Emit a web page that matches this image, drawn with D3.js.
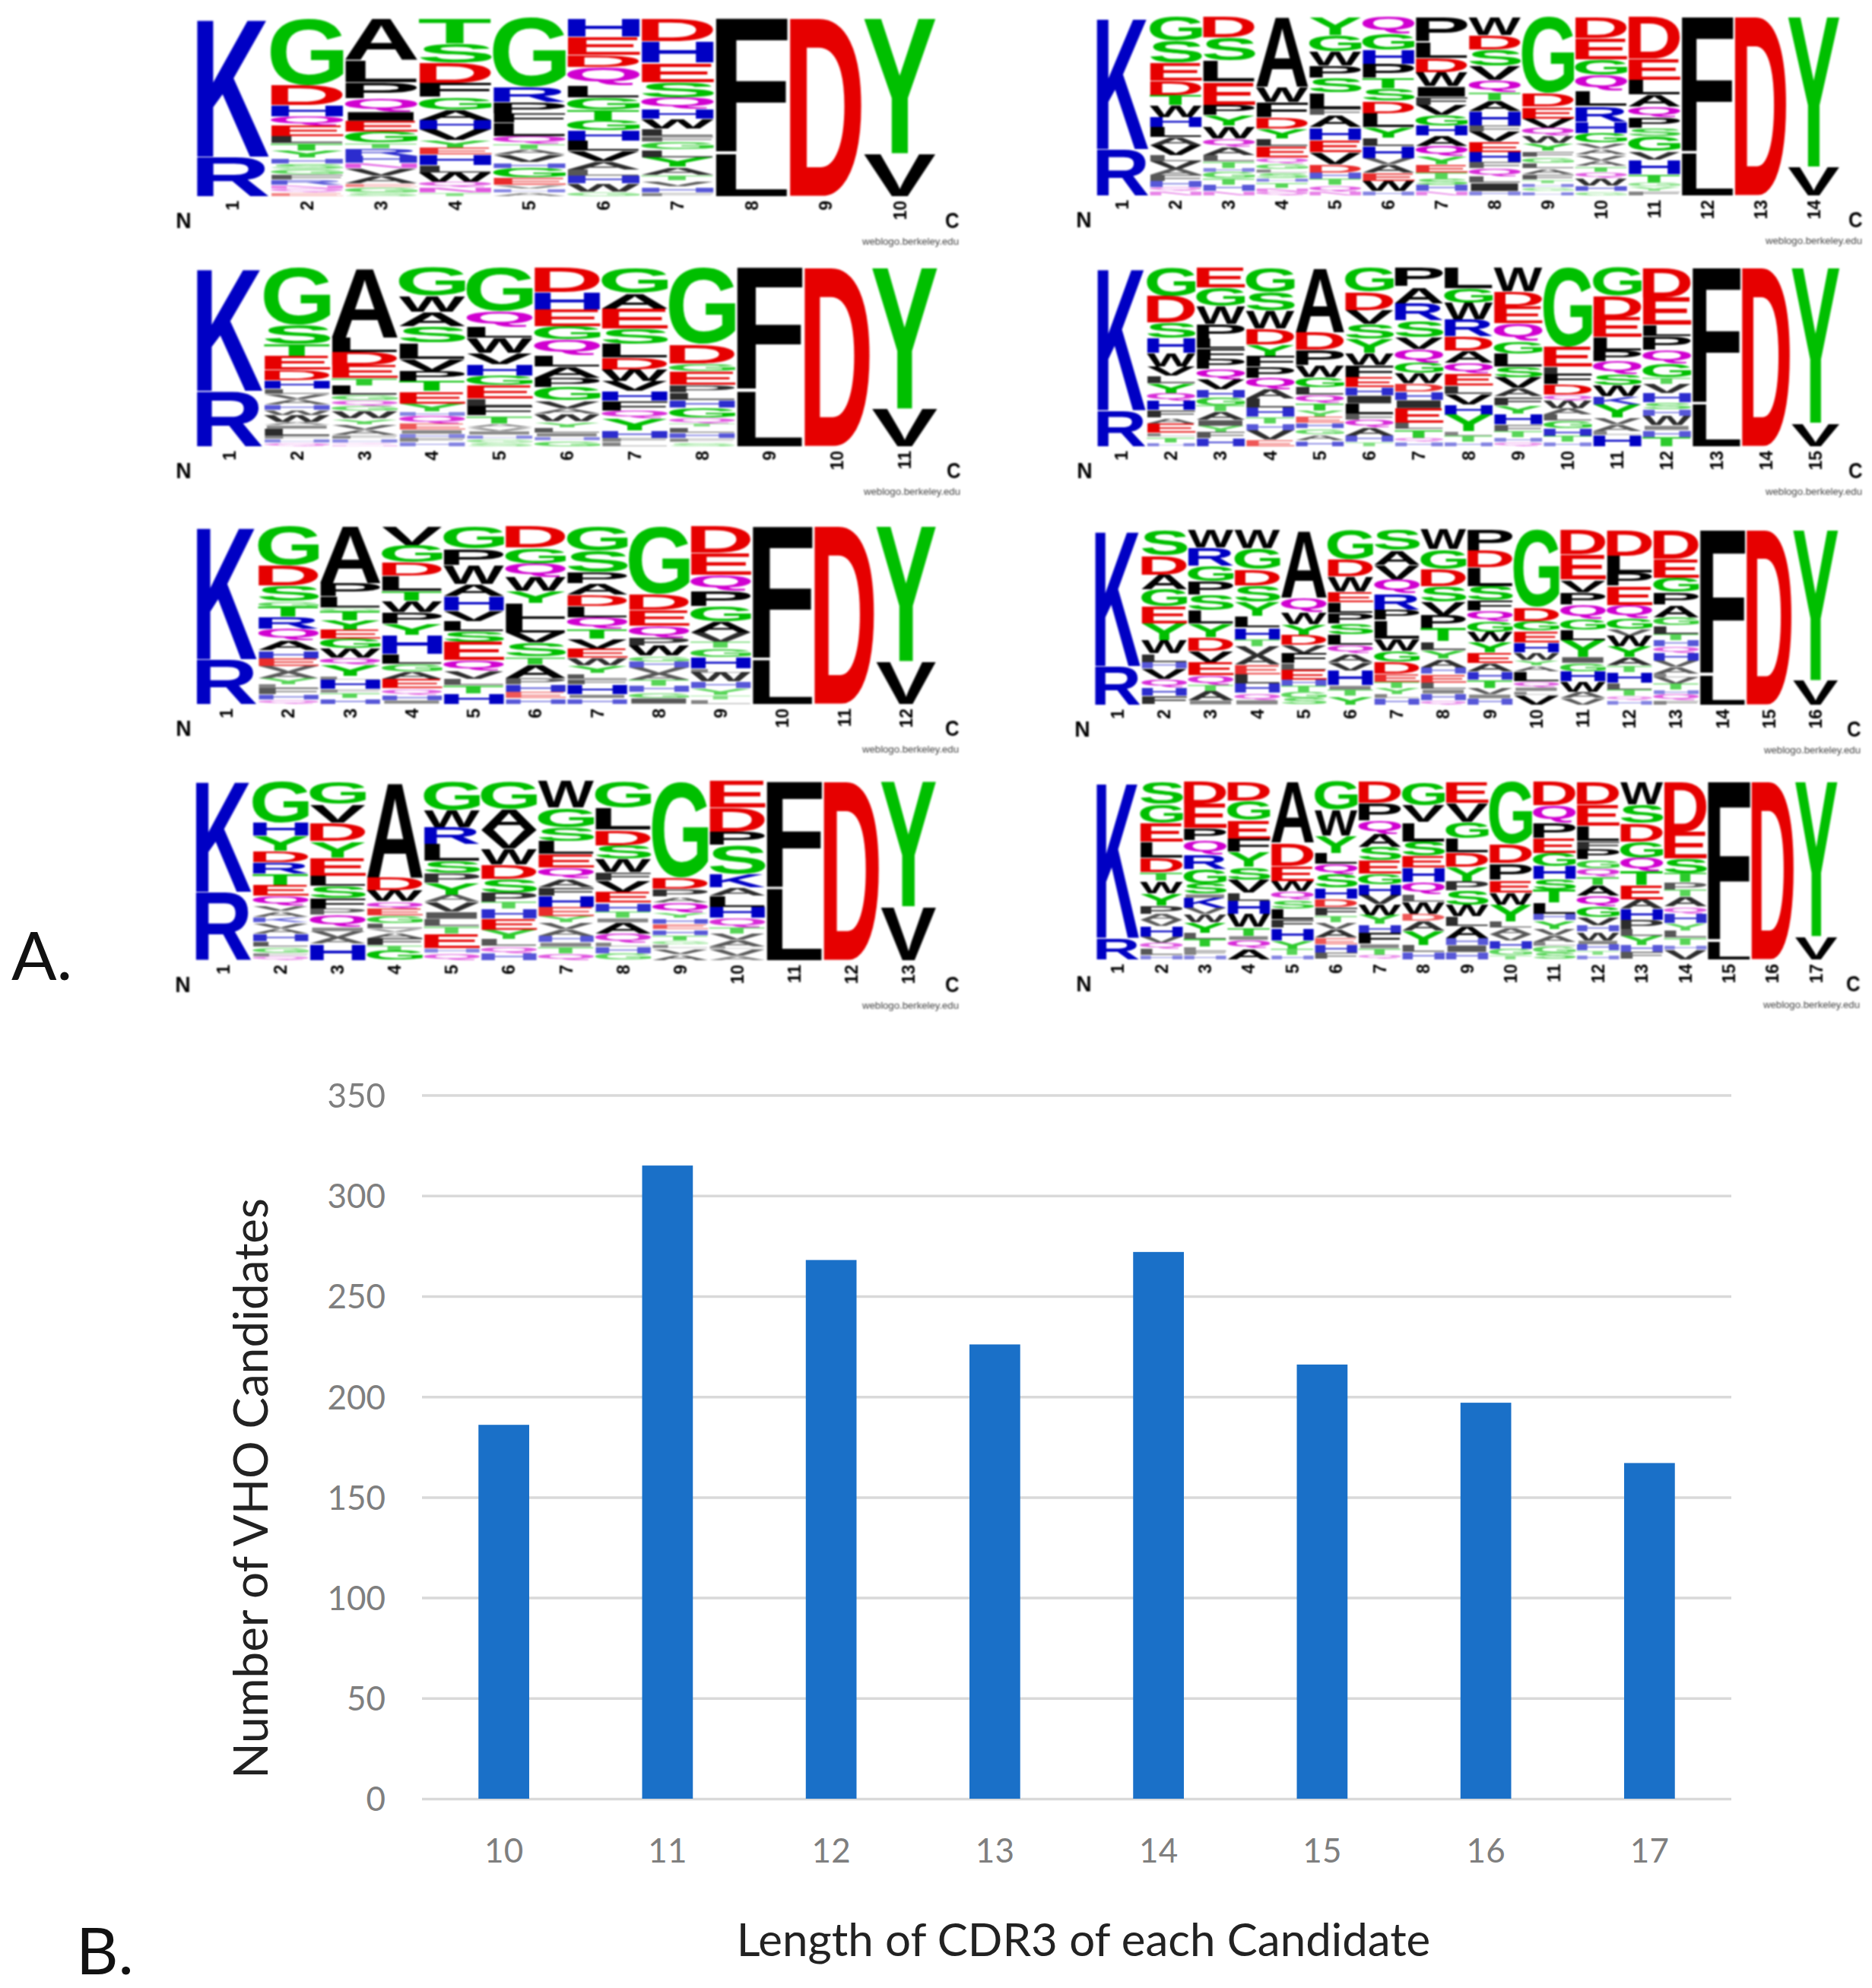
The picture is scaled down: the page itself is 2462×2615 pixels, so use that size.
<!DOCTYPE html>
<html>
<head>
<meta charset="utf-8">
<script src="https://cdn.jsdelivr.net/npm/d3@7"></script>
<style>
  body { margin: 0; background: #fff; }
  svg { display: block; }
  .blurred { filter: blur(1.2px); }
</style>
</head>
<body>
<div id="figure"></div>
<script>
////////////////// data ////////////////////////////////////

//sequence logos: one string per position, letters from top to bottom with their height
let logo10 = [
  "K78 R22",
  "G37 D11 H6 Q5 E6 L4 T4 Y4 H3 S3 G3 F3 R3 N2 Q2 E2",
  "A23 L12 P9 Q7 I5 E6 G6 T3 R4 H4 N3 V4 A4 E2 G3 S2",
  "T14 S11 D11 F8 G7 A6 H5 V6 Y4 E4 H6 L4 W5 Q3 N3 T2",
  "G37 R8 P6 F5 L7 Q4 T3 A3 V4 H3 G5 E4 V2 H2 A2",
  "H9 E9 D6 Q9 L6 G6 T5 G5 H5 L5 V5 A4 L3 H4 W4 G2",
  "D12 H11 E10 S8 Q6 H5 W5 L4 F3 G4 L4 Y5 A4 T3 V3 H3 F2",
  "F76 L24",
  "D100",
  "Y76 V24"
];
let logo14 = [
  "K74 R26",
  "G12 S11 E9 D7 T5 W6 H5 L5 A4 V5 L3 V4 A3 F3 H3 Q2 N2",
  "D10 S11 L10 E11 P5 Y5 W6 Q4 A4 L3 T3 H2 G3 T3 H3 N2",
  "A37 W8 F8 D6 Y5 L4 E6 Q3 G3 L2 S3 H2 T3 N2 Q2",
  "Y9 G8 W7 P6 S7 L8 F3 A6 H6 E6 V6 D4 H3 T3 Q3 N2",
  "Q8 G8 H7 P7 T5 S6 D6 L7 Y5 L4 H6 V3 A4 E4 W5 H2",
  "P12 L8 D7 W7 I5 F4 V5 G5 H5 A5 Q5 Y4 E4 T3 S3 H3 N2",
  "W9 D7 S8 V7 Q6 T4 A5 H7 F3 V5 E5 H5 F3 Q4 L3 I4 H2",
  "G40 D7 E6 V5 Q4 W4 Y4 F3 G3 L3 A3 F3 T2 H2 G2 H2",
  "D11 E11 G8 Q8 L8 R8 H6 G5 V3 A3 V3 A3 T3 Q3 W4 H3 G2",
  "D20 E10 L7 A6 Q5 P5 S4 G7 V4 H7 T4 G2 Y2 F2",
  "F76 L24",
  "D100",
  "Y84 V16"
];
let logo11 = [
  "K69 R31",
  "G33 S11 T7 E8 D6 H5 L3 V3 A3 H3 W3 W4 A2 I2 L4 F2 H2 Q2",
  "A38 L8 D7 E7 T4 L5 G3 Q3 G3 W4 Y3 V3 A3 F2 H2 Q1 N1",
  "G14 W8 A7 S8 L8 V6 P5 T5 E6 Y4 H2 Q4 E3 I2 H2 F2 H2",
  "G23 Q8 L6 W8 V6 H6 G5 E7 L4 F5 T4 A2 V2 I2 H2 G2 S2",
  "D13 H9 E9 G7 Q8 L6 A6 P5 G7 V4 A3 W4 Y3 L3 I2 H2 G3",
  "G13 A8 E10 S8 L7 D6 W6 V5 H5 F5 Q4 Y6 H4 F2 L2",
  "G40 D10 G4 E7 P4 L4 H4 G5 Q3 T2 L3 H3 F2 S2",
  "F69 L31",
  "D100",
  "Y79 V21"
];
let logo15 = [
  "K80 R20",
  "G15 D14 S8 H8 W7 V5 L4 Y5 Q4 H5 F4 A3 E5 L2 T3 H2",
  "E10 G9 W9 P7 L5 F5 P5 Q5 V5 H4 G4 T3 A4 I3 Y3 F3 H4",
  "G11 S8 W8 D7 Y5 F5 P5 Q5 A4 L4 H4 T3 H3 V4 E3",
  "A33 D9 P8 W6 G5 L4 Q4 T4 Y3 E3 H3 G3 A3 H3",
  "G12 D9 V7 S7 Y7 W6 F6 E5 H4 I4 L5 F3 Q4 A4 H3 T2",
  "P9 A8 R8 S8 V6 Q6 G5 W5 D4 H4 I4 E7 L3 T4 Q2 H2",
  "L10 G7 W8 R8 D7 A6 Q5 E6 L4 V5 H5 Y8 L2 T3 H2",
  "W11 D7 E8 Q8 G6 L6 S5 V5 A4 F4 Y4 H5 F3 T3 H2 Q2",
  "G40 E10 L4 F5 D5 Q3 W4 A3 L3 G4 H4 T3 H2",
  "G13 D10 E9 L6 P5 Q6 S5 W5 K4 Y6 V3 A3 L2 H5",
  "D13 E12 L5 P6 Q6 G6 T3 V4 H4 S3 H3 W4 I2 H3 T4",
  "F76 L24",
  "D100",
  "Y87 V13"
];
let logo12 = [
  "K75 R25",
  "G20 D10 S8 G3 T5 R6 Q6 A5 H4 E4 V3 A3 Y3 L2 F3 H3 Q2",
  "A31 P7 L6 G2 T5 Y5 E5 G5 W5 Q4 Y6 L2 H5 F2 T3 H3",
  "V10 G9 D7 L8 T5 W6 P6 Y6 H10 L5 G4 A4 E5 Q3 H3 I2",
  "G11 P8 W9 A6 H7 V5 L5 S5 E9 Q5 V4 L3 T4 H5",
  "D11 G8 Q7 W7 Y6 L8 L7 V5 S7 T4 A7 P3 H4 E3 H3",
  "G13 S11 P6 A6 D6 L6 Q6 T5 V5 E5 W4 Y4 L3 F3 H5 I2 H3",
  "G34 D8 E8 Q6 P4 W5 G3 H3 V3 A3 T3 H3 G3 I3",
  "D12 E10 Q7 P7 G7 A5 V4 T3 G4 H5 L2 W4 H3 Y3 T2 L2",
  "F75 L25",
  "D100",
  "Y76 V24"
];
let logo16 = [
  "K78 R22",
  "S12 D9 A7 G8 E8 Y8 W6 L4 H3 V5 Q4 H4 F4",
  "W8 R8 G7 P6 S7 L6 Y6 D6 V5 E6 Q4 T3 A4 I2",
  "W8 G9 D7 S7 Y6 L5 H5 T3 V4 A4 E4 L4 H4 Q3 I2",
  "A33 Q7 W6 Y5 D5 V4 F5 L3 E5 H3 T3 G3 S3",
  "G14 D8 W7 E5 L5 P5 S5 L5 Q4 A4 V4 H7 I2 T3 Y4",
  "S10 A7 V7 Q7 R8 P5 L9 W6 G5 D6 E4 T3 Y3 L2 H3",
  "W9 G9 D8 S7 V6 P6 T6 L4 Y4 A4 H3 E4 L3 I2 H3 Q2",
  "P10 D8 L9 S7 F5 Q5 G5 W5 Y5 E5 A4 H4 T4 V3 I2 H3",
  "G40 D7 G5 E6 H5 W4 Y3 A3 L5 Q3 I2 L2 V5",
  "D12 E12 V6 P6 Q7 G5 L5 Y8 I3 G4 H5 W5 A3 V3",
  "D12 L8 P6 E9 Q6 G5 V3 W5 Y5 A4 T3 H5 L3 T3 Q2 H2",
  "D14 E9 G7 P6 A6 G4 L4 T3 H3 Q3 H4 V3 A3 L2 V3 T3 H2 Q3 F2",
  "F83 L17",
  "D100",
  "Y86 V14"
];
let logo13 = [
  "K62 R38",
  "G22 H7 Y8 D6 R6 T6 E6 Q5 V3 A3 K3 V3 A3 H4 L3 G3 F2 Q2",
  "G11 V9 D9 Y8 E9 L5 S6 F5 P3 Q6 I2 V3 A3 H8",
  "A52 D7 W6 Q4 E4 G4 L3 V2 A3 F4 T3 G5",
  "G12 W7 R7 L7 S5 P4 Y5 A3 V4 I3 L3 T3 E6 H2 Q3",
  "G12 A9 V8 W7 D6 S6 P4 T3 H4 E5 Y4 L3 Q3 H3",
  "W12 G9 S6 L6 E6 Q5 A4 F4 H5 E4 Y3 V3 A3 H3 I2 T3 Q3",
  "G12 L10 D7 S6 W6 F4 V5 E5 H4 T3 I2 A5 Q4 L2 H3 G3",
  "G50 D6 P4 A3 Q5 Y3 H3 E3 H3 T3 G2 L2 V3 A3",
  "E12 D11 P6 S13 K6 A4 L5 H5 Q4 T3 V3 A3 L1 V3 A2",
  "F60 L40",
  "D100",
  "Y70 V30"
];
let logo17 = [
  "K88 R12",
  "S11 G9 E9 L8 D7 T4 W6 Y6 P4 A3 V3 H5 V3 Q3 L3 H2",
  "D11 E12 P6 Q7 R7 G7 S5 I2 K5 V3 W4 Y5 L3 T4 L2 F2 H2",
  "D9 G9 E9 F6 Y7 S6 V6 L4 H6 W6 T4 I2 Q4 A5",
  "A29 D11 E7 W5 Q4 S4 L5 F4 H6 Y4 T3 H2",
  "G13 W12 Y8 L5 Q5 S6 H5 D4 F4 T3 V3 A4 E3 H4 F3",
  "D10 P8 Q6 A6 S6 E6 G5 H5 V4 W5 Y4 H4 F5 I2 T3 Q2",
  "G10 V7 L8 S6 E5 H6 Q5 L3 W5 D3 A4 Y6 L3 H3",
  "E9 V8 G7 L6 D6 Y6 P4 S6 W5 L4 A5 H3 I3 H3",
  "G30 D9 P8 E6 W6 Y8 L3 A3 V3 H4 G3 T2",
  "D11 Q8 P7 E7 G6 H6 S5 T6 L5 H3 Y4 V3 A3 L2 G3 S3",
  "D11 E10 L7 F4 P5 G4 Q4 T4 A5 Q5 G5 V4 H3 W4 I2 H3 T2 H2",
  "W10 S8 D8 G7 Q6 T6 E6 A4 H5 P4 L3 Y4 H3 F3",
  "D21 E11 S6 T4 P3 T3 A4 Q3 H4 Y3 L3 T3 H2 V4",
  "F90 L10",
  "D100",
  "Y87 V13"
];

//bar chart
let cdr3Lengths = ["10", "11", "12", "13", "14", "15", "16", "17"];
let vhoCounts = [186, 315, 268, 226, 272, 216, 197, 167];
let countTicks = [0, 50, 100, 150, 200, 250, 300, 350];

////////////////// layout ////////////////////////////////////

let width = 2462;
let height = 2615;

//where each logo sits on the page
let logoPanels = [
  {cols: logo10, left: 257, right: 1233, top: 24, bottom: 258},
  {cols: logo14, left: 1441, right: 2421, top: 22, bottom: 257},
  {cols: logo11, left: 257, right: 1235, top: 352, bottom: 587},
  {cols: logo15, left: 1442, right: 2421, top: 352, bottom: 587},
  {cols: logo12, left: 257, right: 1233, top: 692, bottom: 926},
  {cols: logo16, left: 1439, right: 2419, top: 697, bottom: 927},
  {cols: logo13, left: 256, right: 1233, top: 1028, bottom: 1263},
  {cols: logo17, left: 1441, right: 2418, top: 1028, bottom: 1262}
];

let plot = {left: 555, right: 2277, top: 1440.6, bottom: 2366};

let residueColor = d3.scaleOrdinal()
  .domain(["G","S","T","Y","C", "Q","N", "K","R","H", "D","E"])
  .range(["#00bf00","#00bf00","#00bf00","#00bf00","#00bf00",
          "#d000d0","#d000d0",
          "#0000c4","#0000c4","#0000c4",
          "#e60000","#e60000"])
  .unknown("#000000");

//thin letters wash out in the low resolution reference
let letterFade = d3.scaleLinear().domain([1.5, 5]).range([0.4, 1]).clamp(true);

let svg = d3.select("#figure")
  .append("svg")
  .attr("width", width)
  .attr("height", height)
  .attr("viewBox", `0 0 ${width} ${height}`);

////////////////// helper functions ////////////////////////////////////

//ink box of a glyph, used to stretch it over its slot like a logo letter
let measureCtx = document.createElement("canvas").getContext("2d");
function glyphBox(letter) {
  measureCtx.font = "bold 100px 'Liberation Sans'";
  let m = measureCtx.measureText(letter);
  return {x0: -m.actualBoundingBoxLeft, x1: m.actualBoundingBoxRight,
          y0: -m.actualBoundingBoxAscent, y1: m.actualBoundingBoxDescent};
}

function fitGlyph(group, letter, x, y, w, h, color, fade) {
  let box = glyphBox(letter);
  let sx = w / (box.x1 - box.x0);
  let sy = h / (box.y1 - box.y0);
  group.append("text")
       .attr("transform", `translate(${x - box.x0 * sx},${y - box.y0 * sy}) scale(${sx},${sy})`)
       .style("font-family", "'Liberation Sans'")
       .style("font-weight", "bold")
       .style("font-size", "100px")
       .attr("fill", color)
       .attr("fill-opacity", fade === undefined ? 1 : fade)
       .text(letter);
}

////////////////// logos ////////////////////////////////////

function drawLogo(panel) {
  let g = svg.append("g").attr("class", "blurred");
  let positions = panel.cols.map(function(d, i) { return String(i + 1) });

  let x = d3.scaleBand()
            .domain(positions)
            .range([panel.left, panel.right])
            .padding(0.015);

  panel.cols.forEach(function(col, i) {
    let letters = col.split(" ").map(function(s) { return {letter: s[0], weight: +s.slice(1)} });
    let total = d3.sum(letters, function(d) { return d.weight });
    let y = d3.scaleLinear().domain([0, total]).range([panel.top, panel.bottom]);

    let running = 0;
    letters.forEach(function(d) {
      let y0 = y(running);
      let y1 = y(running + d.weight);
      fitGlyph(g, d.letter, x(positions[i]), y0 + 0.4, x.bandwidth(), y1 - y0 - 0.8,
               residueColor(d.letter), letterFade(d.weight));
      running += d.weight;
    });

    //position number, rotated like weblogo does
    g.append("text")
     .attr("transform", `translate(${x(positions[i]) + x.bandwidth() / 2 + 8},${panel.bottom + 6}) rotate(-90)`)
     .style("text-anchor", "end")
     .style("font-family", "'Liberation Sans'")
     .style("font-weight", "bold")
     .style("font-size", "23px")
     .text(positions[i]);
  });

  fitGlyph(g, "N", panel.left - 24, panel.bottom + 21, 17, 21, "#000");
  fitGlyph(g, "C", panel.right + 11, panel.bottom + 21, 17, 21, "#000");

  g.append("text")
   .attr("x", panel.right + 28)
   .attr("y", panel.bottom + 64)
   .style("text-anchor", "end")
   .style("font-family", "'Liberation Sans'")
   .style("font-size", "13px")
   .attr("fill", "#444")
   .attr("textLength", 127)
   .attr("lengthAdjust", "spacingAndGlyphs")
   .text("weblogo.berkeley.edu");
}

logoPanels.forEach(drawLogo);

////////////////// bar chart ////////////////////////////////////

let xBar = d3.scaleBand()
             .domain(cdr3Lengths)
             .range([plot.left, plot.right])
             .paddingInner(0.69)
             .paddingOuter(0.345);

let yBar = d3.scaleLinear()
             .domain([0, 350])
             .range([plot.bottom, plot.top]);

//gridlines come from the y axis ticks
let yAxis = svg.append("g")
  .attr("transform", `translate(${plot.left},0)`)
  .call(d3.axisLeft(yBar).tickValues(countTicks).tickSize(-(plot.right - plot.left)).tickPadding(48))
  .call(g => g.select(".domain").remove());
yAxis.selectAll("line").attr("stroke", "#d9d9d9").attr("stroke-width", 3.5);
yAxis.selectAll("text")
     .attr("dy", "0.36em")
     .attr("fill", "#7f7f7f")
     .style("font-family", "Lato")
     .style("font-size", "44px");

let xAxis = svg.append("g")
  .attr("transform", `translate(0,${plot.bottom})`)
  .call(d3.axisBottom(xBar).tickSize(0).tickPadding(53))
  .call(g => g.select(".domain").remove());
xAxis.selectAll("text")
     .attr("fill", "#7f7f7f")
     .style("font-family", "Lato")
     .style("font-size", "44px");

svg.append("g")
   .selectAll("rect")
   .data(vhoCounts)
   .enter()
   .append("rect")
   .attr("x", function(d, i) { return xBar(cdr3Lengths[i]) })
   .attr("y", function(d) { return yBar(d) })
   .attr("width", xBar.bandwidth())
   .attr("height", function(d) { return yBar(0) - yBar(d) })
   .attr("fill", "#1a70c8");

//axis titles
svg.append("text")
   .attr("transform", "translate(352,1958) rotate(-90)")
   .style("text-anchor", "middle")
   .style("font-family", "Lato")
   .style("font-size", "62px")
   .attr("fill", "#222")
   .text("Number of VHO Candidates");

svg.append("text")
   .attr("x", 1425)
   .attr("y", 2573)
   .style("text-anchor", "middle")
   .style("font-family", "Lato")
   .style("font-size", "60px")
   .attr("fill", "#222")
   .text("Length of CDR3 of each Candidate");

//panel letters
svg.append("text")
   .attr("x", 15)
   .attr("y", 1289)
   .style("font-family", "Lato")
   .style("font-size", "88px")
   .attr("fill", "#111")
   .text("A.");

svg.append("text")
   .attr("x", 100)
   .attr("y", 2597)
   .style("font-family", "Lato")
   .style("font-size", "86px")
   .attr("fill", "#111")
   .text("B.");
</script>
</body>
</html>
